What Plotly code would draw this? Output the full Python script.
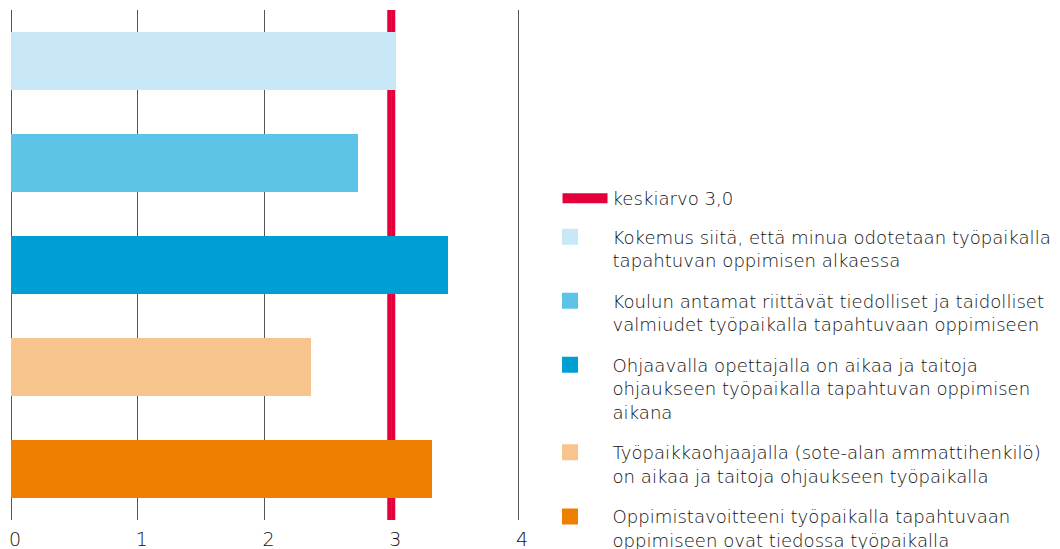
import plotly.graph_objects as go

# ---- data ----
categories = [
    "Kokemus siitä, että minua odotetaan työpaikalla<br>tapahtuvan oppimisen alkaessa",
    "Koulun antamat riittävät tiedolliset ja taidolliset<br>valmiudet työpaikalla tapahtuvaan oppimiseen",
    "Ohjaavalla opettajalla on aikaa ja taitoja<br>ohjaukseen työpaikalla tapahtuvan oppimisen<br>aikana",
    "Työpaikkaohjaajalla (sote-alan ammattihenkilö)<br>on aikaa ja taitoja ohjaukseen työpaikalla",
    "Oppimistavoitteeni työpaikalla tapahtuvaan<br>oppimiseen ovat tiedossa työpaikalla",
]
values = [3.04, 2.74, 3.45, 2.37, 3.32]
mean_value = 3.0
mean_label = "keskiarvo 3,0"
x_ticks = [0, 1, 2, 3, 4]

# ---- styles ----
bar_colors = ["#C8E7F7", "#5EC4E7", "#009FD3", "#F8C48E", "#EF7F00"]
red = "#E4003B"
font_family = "'DejaVu Sans', 'Liberation Sans', Arial, sans-serif"
text_color = "#111111"
legend_font = dict(family=font_family, size=18.1, color=text_color, weight=300)
tick_font = dict(family=font_family, size=19, color=text_color, weight=300)

fig = go.Figure()

# legend entry for the mean line (own legend so its line length can differ)
fig.add_trace(go.Scatter(
    x=[None], y=[None], mode="lines", name=mean_label,
    line=dict(color=red, width=10), legend="legend2", hoverinfo="skip",
))

for i, (cat, val) in enumerate(zip(categories, values)):
    fig.add_trace(go.Bar(
        x=[val], y=[i], orientation="h", width=0.577,
        marker=dict(color=bar_colors[i], line=dict(width=0)),
        showlegend=False, name=cat, hoverinfo="x",
    ))
    # legend entry (square marker)
    fig.add_trace(go.Scatter(
        x=[None], y=[None], mode="markers", name=cat,
        marker=dict(symbol="square", size=16, color=bar_colors[i]),
        legendgroup="g%d" % i, hoverinfo="skip",
    ))

# mean line, drawn under the bars
fig.add_shape(
    type="line", xref="x", yref="paper",
    x0=mean_value, x1=mean_value, y0=0, y1=1,
    line=dict(color=red, width=8), layer="below",
)

# page body has an 8px margin, so the figure is placed 8px in from the window edge
fig.update_layout(
    width=1052, height=541,
    margin=dict(l=0, r=539, t=2, b=29, autoexpand=False),
    paper_bgcolor="white", plot_bgcolor="white",
    font=legend_font,
    bargap=0,
    showlegend=True,
    legend=dict(
        x=1.0127, xanchor="left", y=0.5914, yanchor="top",
        valign="top", tracegroupgap=14, itemwidth=75,
        font=legend_font, bgcolor="rgba(0,0,0,0)",
    ),
    legend2=dict(
        x=1.0712, xanchor="left", y=0.6665, yanchor="top",
        valign="top", itemwidth=45,
        font=legend_font, bgcolor="rgba(0,0,0,0)",
    ),
)
pad = 0.02367
fig.update_xaxes(
    range=[-pad, 4 + pad], tickvals=x_ticks, ticktext=[str(t) for t in x_ticks],
    showgrid=True, gridcolor="#555555", gridwidth=1.3,
    zeroline=False, showline=False, ticks="", ticklabelstandoff=6,
    ticklabelshift=4, ticklabeloverflow="allow",
    tickfont=tick_font,
    fixedrange=True,
)
fig.update_yaxes(
    range=[4.5, -0.5], showticklabels=False, showgrid=False,
    zeroline=False, showline=False, fixedrange=True,
)

fig.write_html("out.html")
